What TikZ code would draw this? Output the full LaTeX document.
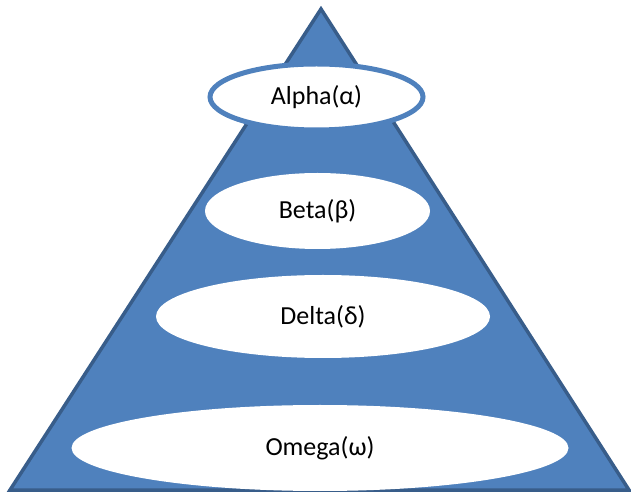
\documentclass[tikz,border=0pt]{standalone}
\usepackage{fontspec}
\setmainfont{Carlito}
\usetikzlibrary{shapes.geometric}
\definecolor{pyrfill}{HTML}{4F81BD}
\definecolor{pyredge}{HTML}{385D8A}
\tikzset{
  level/.style={ellipse, fill=white, inner sep=0pt, font=\fontsize{26}{31}\selectfont},
}
\begin{document}
\begin{tikzpicture}[x=1pt,y=1pt]
\useasboundingbox (0,0) rectangle (631,492);
\coordinate (apex) at (321,483);
\coordinate (bl) at (10,2);
\coordinate (br) at (629,2);
\draw[fill=pyrfill, draw=pyredge, line width=3.5pt, line join=miter] (apex) -- (br) -- (bl) -- cycle;
\node[level, minimum width=497pt, minimum height=86pt] (omega) at (320,44) {Omega(ω)};
\node[level, minimum width=334pt, minimum height=83pt] (delta) at (323,175.5) {Delta(δ)};
\node[level, minimum width=225pt, minimum height=76pt] (beta) at (317.5,281) {Beta(β)};
\node[level, draw=pyrfill, line width=5pt, minimum width=213pt, minimum height=66pt] (alpha) at (316.5,395) {Alpha(α)};
\end{tikzpicture}
\end{document}
